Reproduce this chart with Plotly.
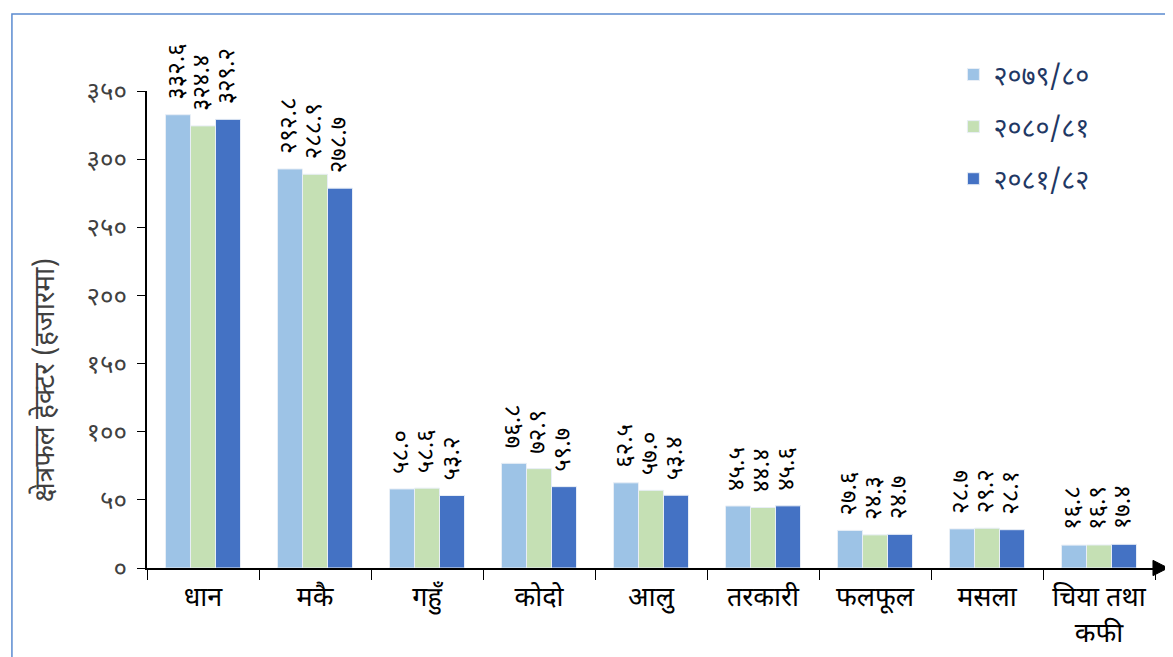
import plotly.graph_objects as go

categories = ["धान", "मकै", "गहुँ", "कोदो", "आलु", "तरकारी", "फलफूल", "मसला", "चिया तथा<br>कफी"]
series_names = ["२०७९/८०", "२०८०/८१", "२०८१/८२"]
y2079 = [332.6, 292.8, 58.0, 76.8, 62.5, 45.5, 27.6, 28.7, 16.8]
y2080 = [324.4, 288.9, 58.6, 72.9, 57.0, 44.4, 24.3, 29.2, 16.9]
y2081 = [329.2, 278.7, 53.2, 59.7, 53.4, 45.6, 24.7, 28.1, 17.4]
tick_vals = [0, 50, 100, 150, 200, 250, 300, 350]
y_title = "क्षेत्रफल हेक्टर (हजारमा)"
colors = ["#9DC3E6", "#C5E0B4", "#4472C4"]

DEV = str.maketrans("0123456789", "०१२३४५६७८९")
def dev(s):
    return str(s).translate(DEV)

FONT = "Noto Sans Devanagari, Lohit Devanagari, Mangal, Noto Sans, sans-serif"

fig = go.Figure()
annotations = []
bar_px = 112 * (1 - 0.33) / 3
for i, (name, vals, col) in enumerate(zip(series_names, [y2079, y2080, y2081], colors)):
    fig.add_trace(go.Bar(
        x=categories, y=vals, name=name,
        marker=dict(color=col, line=dict(color="#E8EEF6", width=1)),
        cliponaxis=False, legendgroup=name,
    ))
    for c, v in zip(categories, vals):
        annotations.append(dict(
            x=c, y=v, xref="x", yref="y", text=dev(f"{v:.1f}"),
            showarrow=False, textangle=-90, xanchor="center", yanchor="bottom",
            xshift=(i - 1) * bar_px, yshift=13,
            font=dict(size=24, color="#000000", family=FONT),
        ))

annotations.append(dict(
    x=-0.10, y=0.394, xref="paper", yref="paper", text=y_title,
    showarrow=False, textangle=-90, xanchor="center", yanchor="middle",
    font=dict(size=28, color="#404040", family=FONT),
))

fig.update_layout(
    width=1173, height=657,
    barmode="group", bargap=0.33, bargroupgap=0,
    plot_bgcolor="white", paper_bgcolor="white",
    margin=dict(l=139, r=26, t=83, b=97),
    font=dict(family=FONT, color="#000000"),
    annotations=annotations,
    legend=dict(x=0.80, y=1.085, xanchor="left", yanchor="top",
                font=dict(size=27, color="#1F3864", family=FONT),
                tracegroupgap=14, itemwidth=30, bgcolor="rgba(0,0,0,0)"),
    xaxis=dict(showline=True, linecolor="#000000", linewidth=2,
               ticks="outside", tickson="boundaries", ticklen=10, tickcolor="#000000",
               tickfont=dict(size=27, color="#000000", family=FONT),
               ticklabelstandoff=4, automargin=False,
               showgrid=False, fixedrange=True),
    yaxis=dict(range=[0, 350], tickvals=tick_vals, ticktext=[dev(v) for v in tick_vals],
               showline=True, linecolor="#000000", linewidth=1.5,
               ticks="outside", ticklen=8, tickcolor="#000000",
               tickfont=dict(size=26, color="#404040", family=FONT),
               ticklabelstandoff=5, automargin=False,
               showgrid=False, zeroline=False),
    shapes=[
        dict(type="path", xref="paper", yref="paper",
             path="M 0.998 0.016 L 1.013 0 L 0.998 -0.016 Z",
             fillcolor="#000000", line=dict(color="#000000", width=1)),
        dict(type="rect", xref="paper", yref="paper",
             x0=-0.134, x1=1.0165, y0=-0.3, y1=1.1614,
             line=dict(color="#5B8BD0", width=1.5), fillcolor="rgba(0,0,0,0)", layer="below"),
    ],
)

fig.write_html("out.html")
